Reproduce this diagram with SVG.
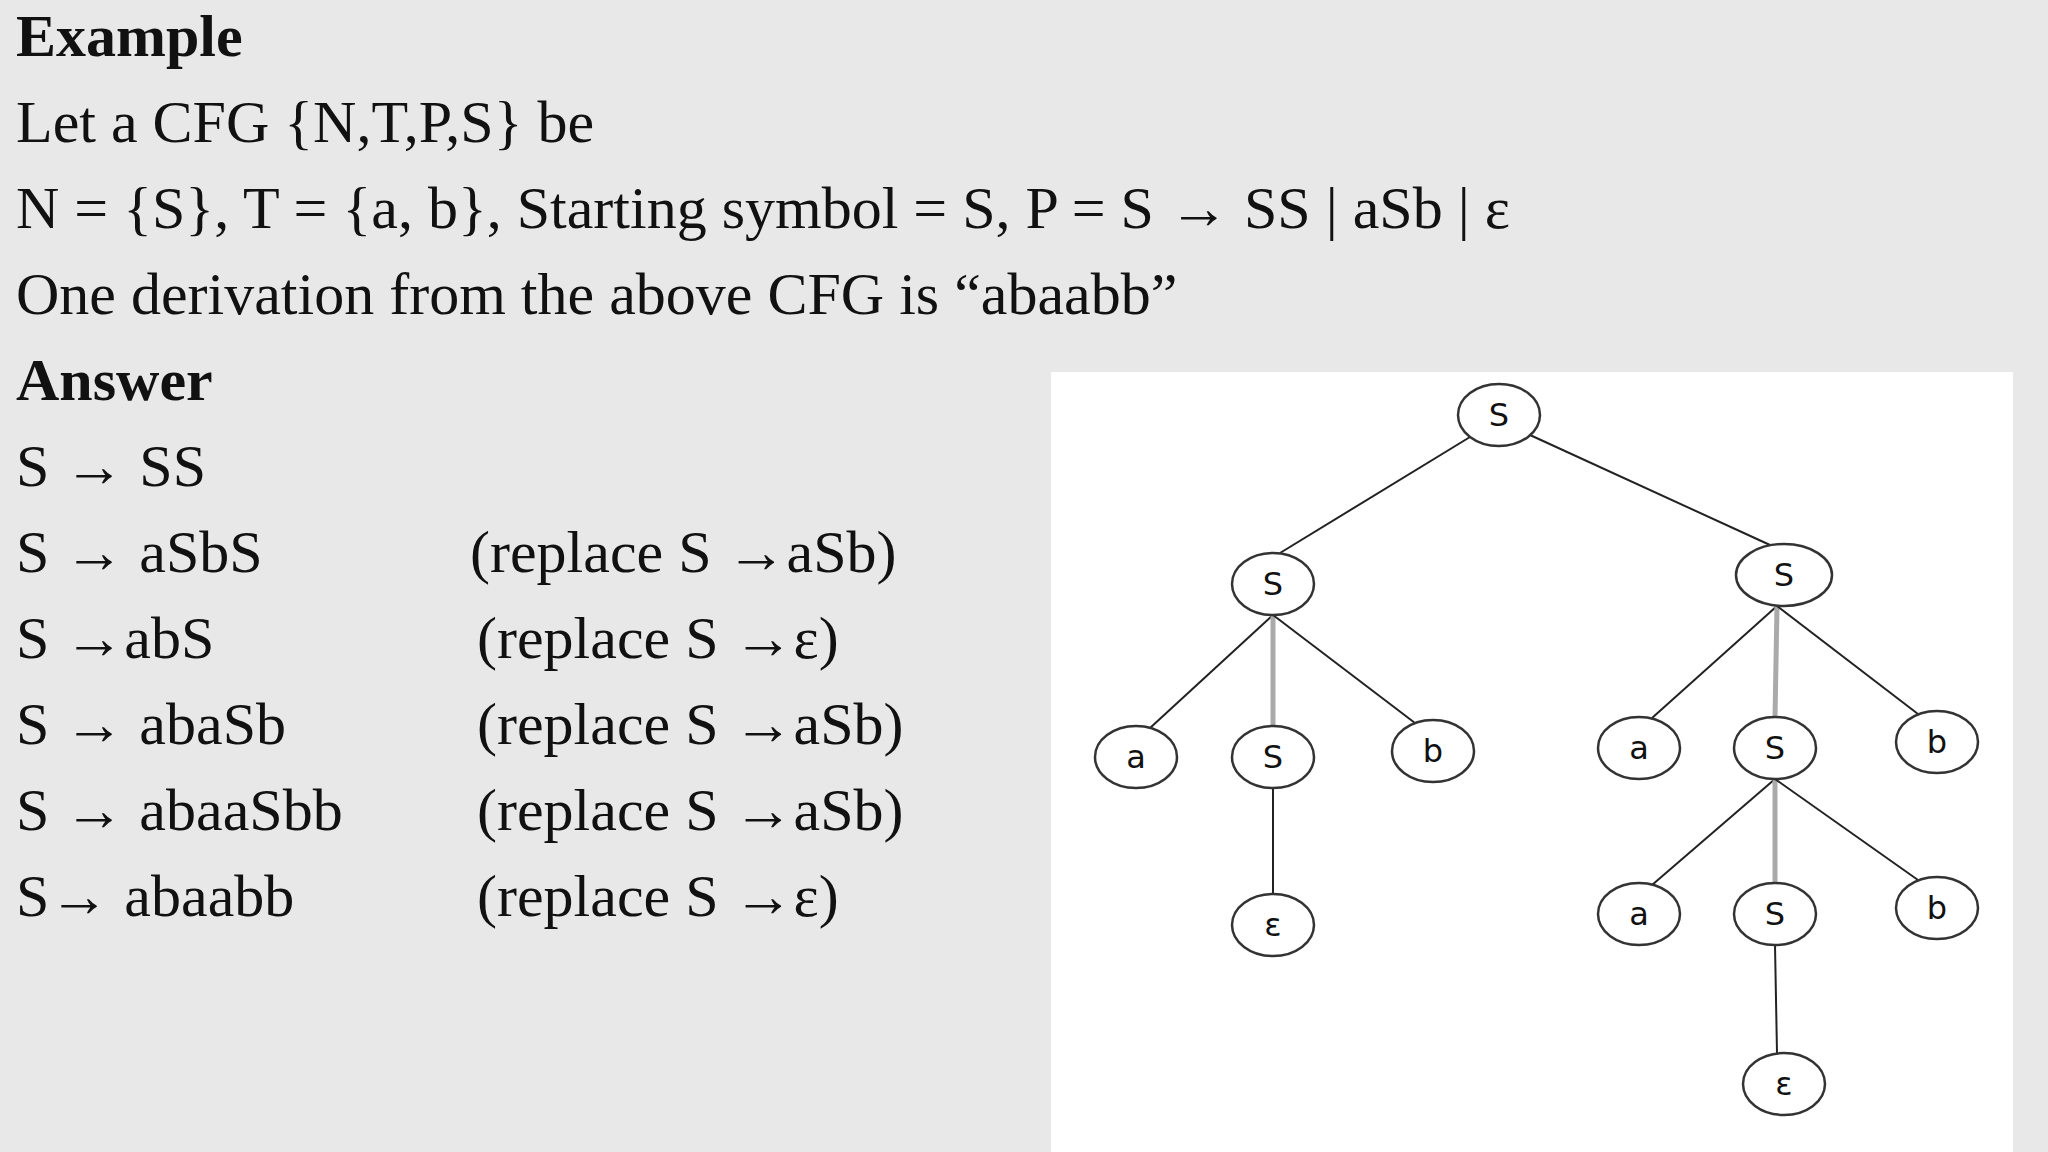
<svg xmlns="http://www.w3.org/2000/svg" width="2048" height="1152" viewBox="0 0 2048 1152">
<style>
.t{font-family:"Liberation Serif",serif;font-size:60px;fill:#111}
.b{font-weight:bold}
.n ellipse{fill:#fff;stroke:#333;stroke-width:2.5}
.n text{font-family:"DejaVu Sans",sans-serif;font-size:32px;text-anchor:middle;fill:#111}
.e{stroke:#222;stroke-width:2}
.g{stroke:#aaa;stroke-width:5}
</style>
<rect width="2048" height="1152" fill="#e8e8e8"/>
<text class="t b" x="16" y="56">Example</text>
<text class="t" x="16" y="142">Let a CFG {N,T,P,S} be</text>
<text class="t" x="16" y="228">N = {S}, T = {a, b}, Starting symbol = S,  P = S → SS | aSb | ε</text>
<text class="t" x="16" y="314">One derivation from the above CFG is “abaabb”</text>
<text class="t b" x="16" y="400">Answer</text>
<text class="t" x="16" y="486">S → SS</text>
<text class="t" x="16" y="572">S → aSbS</text>
<text class="t" x="470" y="572">(replace S →aSb)</text>
<text class="t" x="16" y="658">S →abS</text>
<text class="t" x="477" y="658">(replace S →ε)</text>
<text class="t" x="16" y="744">S → abaSb</text>
<text class="t" x="477" y="744">(replace S →aSb)</text>
<text class="t" x="16" y="830">S → abaaSbb</text>
<text class="t" x="477" y="830">(replace S →aSb)</text>
<text class="t" x="16" y="916">S→ abaabb</text>
<text class="t" x="477" y="916">(replace S →ε)</text>
<rect x="1051" y="372" width="962" height="780" fill="#fff"/>
<g id="edges">
<line class="e" x1="1470" y1="437" x2="1280" y2="553"/>
<line class="e" x1="1530" y1="435" x2="1770" y2="545"/>
<line class="e" x1="1273" y1="615" x2="1150" y2="728"/>
<line class="g" x1="1273" y1="615" x2="1273" y2="726"/>
<line class="e" x1="1273" y1="615" x2="1415" y2="723"/>
<line class="e" x1="1273" y1="788" x2="1273" y2="894"/>
<line class="e" x1="1777" y1="606" x2="1652" y2="718"/>
<line class="g" x1="1777" y1="606" x2="1775" y2="717"/>
<line class="e" x1="1777" y1="606" x2="1918" y2="714"/>
<line class="e" x1="1775" y1="779" x2="1652" y2="885"/>
<line class="g" x1="1775" y1="779" x2="1775" y2="883"/>
<line class="e" x1="1775" y1="779" x2="1918" y2="880"/>
<line class="e" x1="1775" y1="945" x2="1777" y2="1053"/>
</g>
<g id="root" class="n"><ellipse cx="1499" cy="415" rx="41" ry="31"/><text x="1499" y="426">S</text></g>
<g id="sL" class="n"><ellipse cx="1273" cy="584" rx="41" ry="31"/><text x="1273" y="595">S</text></g>
<g id="sR" class="n"><ellipse cx="1784" cy="575" rx="48" ry="31"/><text x="1784" y="586">S</text></g>
<g id="aL" class="n"><ellipse cx="1136" cy="757" rx="41" ry="31"/><text x="1136" y="768">a</text></g>
<g id="sLm" class="n"><ellipse cx="1273" cy="757" rx="41" ry="31"/><text x="1273" y="768">S</text></g>
<g id="bL" class="n"><ellipse cx="1433" cy="751" rx="41" ry="31"/><text x="1433" y="762">b</text></g>
<g id="epsL" class="n"><ellipse cx="1273" cy="925" rx="41" ry="31"/><text x="1273" y="936">ε</text></g>
<g id="aR" class="n"><ellipse cx="1639" cy="748" rx="41" ry="31"/><text x="1639" y="759">a</text></g>
<g id="sRm" class="n"><ellipse cx="1775" cy="748" rx="41" ry="31"/><text x="1775" y="759">S</text></g>
<g id="bR" class="n"><ellipse cx="1937" cy="742" rx="41" ry="31"/><text x="1937" y="753">b</text></g>
<g id="aRR" class="n"><ellipse cx="1639" cy="914" rx="41" ry="31"/><text x="1639" y="925">a</text></g>
<g id="sRR" class="n"><ellipse cx="1775" cy="914" rx="41" ry="31"/><text x="1775" y="925">S</text></g>
<g id="bRR" class="n"><ellipse cx="1937" cy="908" rx="41" ry="31"/><text x="1937" y="919">b</text></g>
<g id="epsR" class="n"><ellipse cx="1784" cy="1084" rx="41" ry="31"/><text x="1784" y="1095">ε</text></g>
</svg>
